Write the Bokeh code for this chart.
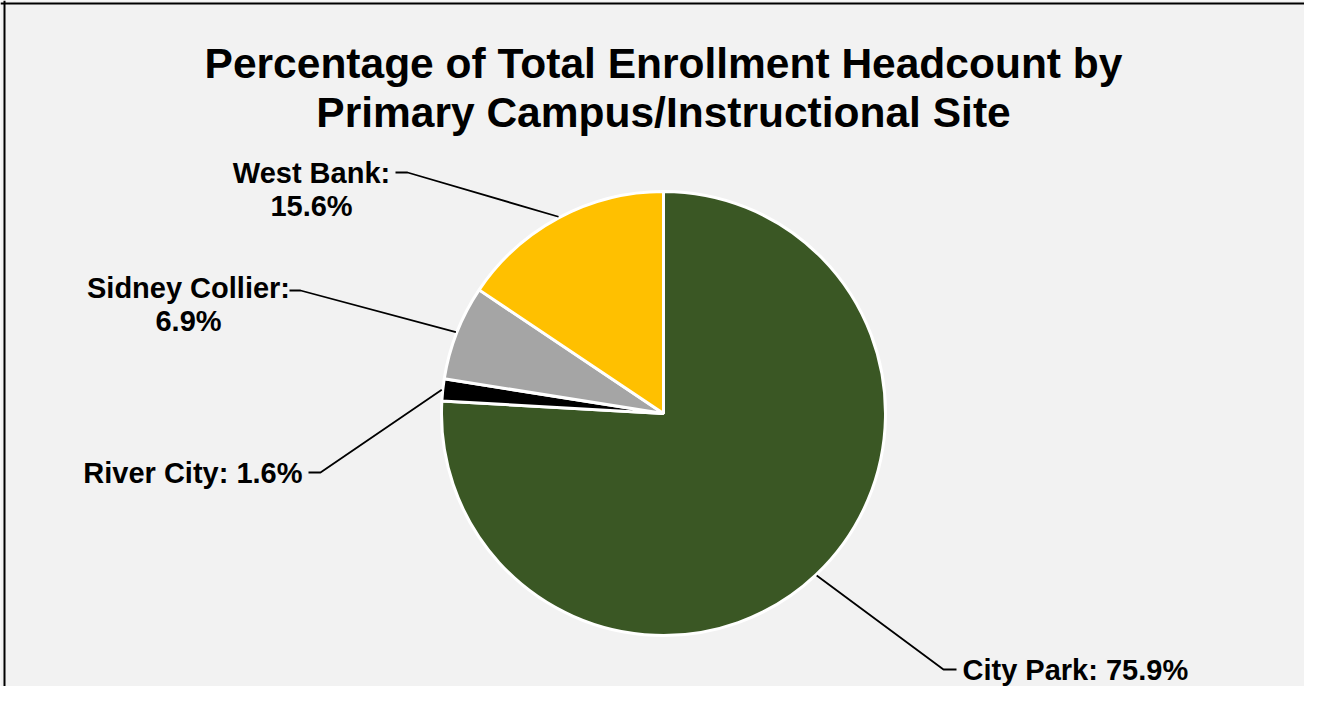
import numpy as np
from bokeh.plotting import figure
from bokeh.models import Span, ColumnDataSource
from bokeh.core.properties import value
from bokeh.embed import file_html
from bokeh.resources import INLINE

# ---- data ----
campuses = ["City Park", "River City", "Sidney Collier", "West Bank"]
percents = [75.9, 1.6, 6.9, 15.6]
colors = ["#3a5724", "#000000", "#a5a5a5", "#ffc000"]
label_lines = [["City Park: 75.9%"], ["River City: 1.6%"],
               ["Sidney Collier:", "6.9%"], ["West Bank:", "15.6%"]]
title_lines = ["Percentage of Total Enrollment Headcount by",
               "Primary Campus/Instructional Site"]

W, H = 1304, 686
FONT = "Liberation Sans"
BG = "#f2f2f2"

def px(X, Y):
    # reference pixel (y down) -> data coords (y up)
    return X, H - Y

p = figure(width=W, height=H, output_backend="svg", toolbar_location=None,
           x_range=(0, W), y_range=(0, H), x_axis_type=None, y_axis_type=None,
           min_border=0, background_fill_color=BG, border_fill_color=BG)
p.grid.visible = False
p.outline_line_color = None

# borders (left and top visible in reference)
p.add_layout(Span(location=4, dimension="height", line_color="#000000", line_width=2))
p.add_layout(Span(location=H - 3, dimension="width", line_color="#000000", line_width=2))

# ---- pie ----
cx, cy = px(663, 413)
R = 222
frac = np.array(percents) / np.sum(percents)
ang = frac * 2 * np.pi
end = np.pi / 2 - np.concatenate([[0], np.cumsum(ang)[:-1]])
start = end - ang
src = ColumnDataSource(dict(start=start, end=end, color=colors, name=campuses))
p.wedge(x=cx, y=cy, radius=R, start_angle="start", end_angle="end",
        fill_color="color", line_color="white", line_width=3, source=src)

mid = (start + end) / 2

# ---- labels & leader lines ----
layout = {
    "City Park": dict(x=962, y=669, align="left", hx=(943, 956), hy=669),
    "River City": dict(x=302, y=472, align="right", hx=(320, 308), hy=472),
    "Sidney Collier": dict(x=188, y=287, align="center", hx=(300, 289), hy=290),
    "West Bank": dict(x=311, y=172, align="center", hx=(407, 395), hy=172),
}
LINE_H = 33.5
for i, name in enumerate(campuses):
    L = layout[name]
    for k, t in enumerate(label_lines[i]):
        tx, ty = px(L["x"], L["y"] + k * LINE_H)
        p.text(x=[tx], y=[ty], text=[t], text_font=value(FONT), text_font_size="29px",
               text_font_style="bold", text_color="#000000", text_align=L["align"],
               text_baseline="alphabetic")
    ex = cx + (R + 1) * np.cos(mid[i])
    ey = cy + (R + 1) * np.sin(mid[i])
    e1 = px(L["hx"][0], L["hy"])
    e2 = px(L["hx"][1], L["hy"])
    p.line(x=[ex, e1[0], e2[0]], y=[ey, e1[1], e2[1]], line_color="#000000", line_width=1.8)

# ---- title ----
for k, t in enumerate(title_lines):
    tx, ty = px(663, 63 + k * 49)
    p.text(x=[tx], y=[ty], text=[t], text_font=value(FONT), text_font_size="42.5px",
           text_font_style="bold", text_color="#000000", text_align="center",
           text_baseline="alphabetic")

open("out.html", "w").write(file_html(p, INLINE))
